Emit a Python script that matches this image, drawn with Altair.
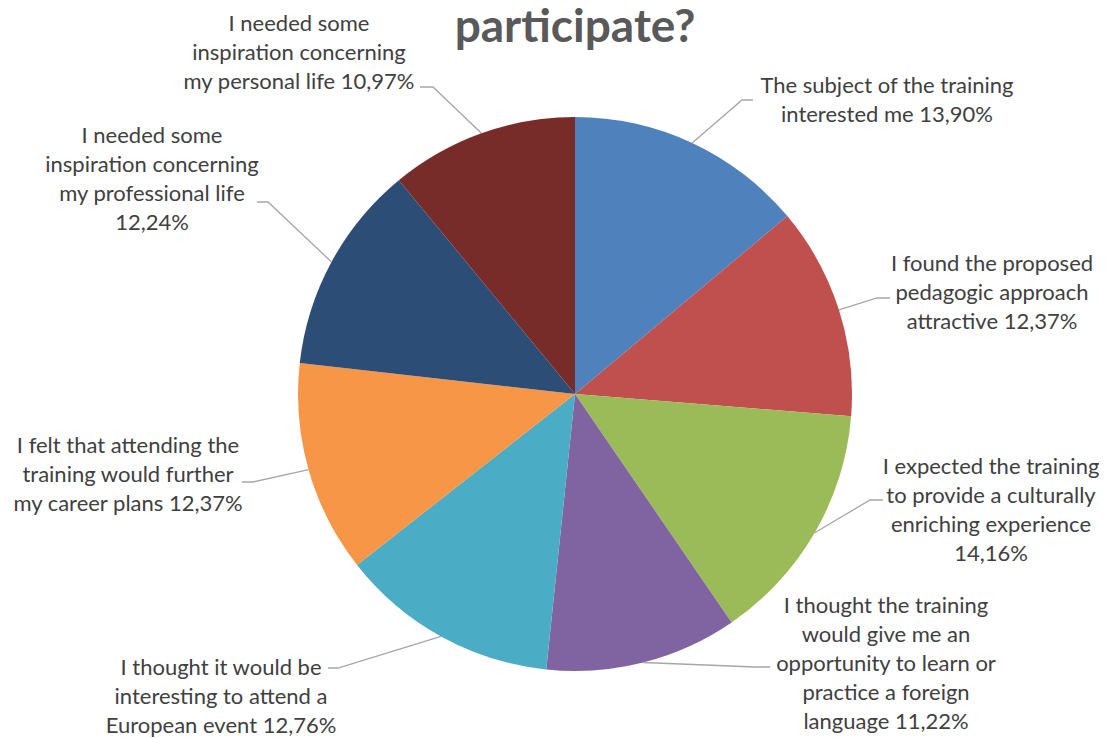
import math
import altair as alt
import pandas as pd

# ---------------- data ----------------
categories = [
    "The subject of the training\ninterested me",
    "I found the proposed\npedagogic approach\nattractive",
    "I expected the training\nto provide a culturally\nenriching experience",
    "I thought the training\nwould give me an\nopportunity to learn or\npractice a foreign\nlanguage",
    "I thought it would be\ninteresting to attend a\nEuropean event",
    "I felt that attending the\ntraining would further\nmy career plans",
    "I needed some\ninspiration concerning\nmy professional life",
    "I needed some\ninspiration concerning\nmy personal life",
]
values = [13.90, 12.37, 14.16, 11.22, 12.76, 12.37, 12.24, 10.97]
pct_sep = [" ", " ", "\n", " ", " ", " ", "\n", " "]
colors = ["#4F81BD", "#C0504D", "#9BBB59", "#8064A2",
          "#4BACC6", "#F79646", "#2C4D75", "#772C2A"]
title_text = "participate?"

# ---------------- layout (page coords minus offsets) ----------------
W, H = 1091, 730
MX, MY = 8, 8
CX, CY, R = 575 - MX, 394 - MY, 277
label_center_x = [887, 992, 991, 886, 221, 128, 152, 299]
label_baseline_y = [93, 271, 474, 613, 675, 453, 143, 31]
elbow_xy = [(742, 100), (877, 298), (870, 500), (755, 667),
            (338, 668), (253, 482), (268, 202), (433, 87)]
tail_x = [753, 890, 883, 770, 328, 242, 257, 420]

# ---------------- derived tables ----------------
total = sum(values)
pie_df = pd.DataFrame({
    "idx": list(range(len(values))),
    "category": [c.replace("\n", " ") for c in categories],
    "value": values,
})

cum = 0.0
line_rows = []
text_rows = []
for i, v in enumerate(values):
    mid = (cum + v / 2) / total * 2 * math.pi
    cum += v
    ex = CX + R * math.sin(mid)
    ey = CY - R * math.cos(mid)
    pts = [(ex, ey), (elbow_xy[i][0] - MX, elbow_xy[i][1] - MY),
           (tail_x[i] - MX, elbow_xy[i][1] - MY)]
    for k, (px, py) in enumerate(pts):
        line_rows.append({"id": i, "k": k, "x": px, "y": py})
    pct = f"{v:.2f}".replace(".", ",") + "%"
    text_rows.append({"id": i, "x": label_center_x[i] - MX,
                      "y": label_baseline_y[i] - MY,
                      "text": categories[i] + pct_sep[i] + pct})
line_df = pd.DataFrame(line_rows)
text_df = pd.DataFrame(text_rows)

# ---------------- chart ----------------
one = pd.DataFrame({"v": [1]})
shadow1 = alt.Chart(one).mark_arc(
    radius=R + 2, color="#000000", opacity=0.08
).encode(theta=alt.Theta("v:Q"), x=alt.value(CX + 3), y=alt.value(CY + 6))
shadow2 = alt.Chart(one).mark_arc(
    radius=R, color="#000000", opacity=0.22
).encode(theta=alt.Theta("v:Q"), x=alt.value(CX + 2), y=alt.value(CY + 4))

pie = alt.Chart(pie_df).mark_arc(radius=R).encode(
    theta=alt.Theta("value:Q", stack=True),
    color=alt.Color("category:N",
                    scale=alt.Scale(domain=list(pie_df["category"]), range=colors),
                    legend=None),
    order=alt.Order("idx:Q"),
    x=alt.value(CX),
    y=alt.value(CY),
)

leaders = alt.Chart(line_df).mark_line(color="#A6A6A6", strokeWidth=1.3).encode(
    x=alt.X("x:Q", scale=None, axis=None),
    y=alt.Y("y:Q", scale=None, axis=None),
    detail="id:N",
    order="k:Q",
)

texts = alt.Chart(text_df).mark_text(
    align="center", baseline="alphabetic", lineBreak="\n", lineHeight=29,
    font="Lato", fontSize=22, color="#404040"
).encode(
    x=alt.X("x:Q", scale=None, axis=None),
    y=alt.Y("y:Q", scale=None, axis=None),
    text="text:N",
)

title = alt.Chart(pd.DataFrame({"t": [title_text]})).mark_text(
    align="center", baseline="alphabetic", font="Lato", fontSize=46,
    fontWeight="bold", color="#595959"
).encode(x=alt.value(575 - MX), y=alt.value(42 - MY), text="t:N")

chart = alt.layer(shadow1, shadow2, pie, leaders, texts, title).properties(
    width=W, height=H, padding=0, background="white",
    autosize=alt.AutoSizeParams(type="none")
).configure_view(stroke=None)

chart.save("out.html", embed_options={"renderer": "svg", "actions": False})
